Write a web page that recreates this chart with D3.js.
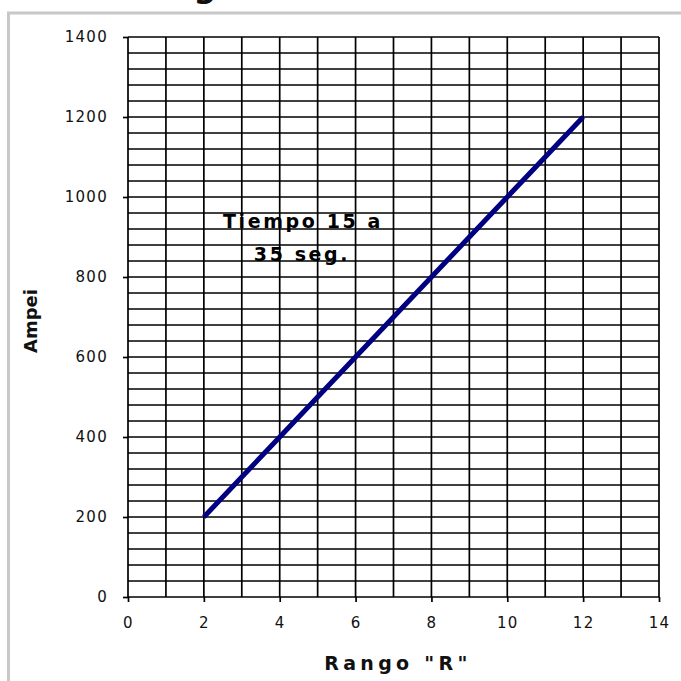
<!DOCTYPE html>
<html>
<head>
<meta charset="utf-8">
<script src="https://cdn.jsdelivr.net/npm/d3@7"></script>
<style>
  html, body { margin: 0; padding: 0; background: #fff; }
  svg { display: block; }
</style>
</head>
<body>
<svg id="chart" width="681" height="681"></svg>
<script>
// ---- data ----
const rango = [2, 3, 4, 5, 6, 7, 8, 9, 10, 11, 12];
const amperes = [200, 300, 400, 500, 600, 700, 800, 900, 1000, 1100, 1200];
const xTicks = [0, 2, 4, 6, 8, 10, 12, 14];
const yTicks = [0, 200, 400, 600, 800, 1000, 1200, 1400];
const xTitle = 'Rango "R"';
const yTitle = "Ampei";
const noteLines = ["Tiempo 15 a", "35 seg."];
const titleText = "g";

// ---- layout ----
const svg = d3.select("#chart");
const x = d3.scaleLinear().domain([0, 14]).range([128, 659]);
const y = d3.scaleLinear().domain([0, 1400]).range([597, 37]);

// outer frame
svg.append("rect")
  .attr("x", 8.5).attr("y", 13).attr("width", 1000).attr("height", 1000)
  .attr("fill", "none").attr("stroke", "#c8c8c8").attr("stroke-width", 3);

// clipped title fragment (only its descender is visible in the reference)
svg.append("text")
  .attr("x", 205).attr("y", -3)
  .attr("text-anchor", "middle")
  .attr("font-family", "DejaVu Sans, sans-serif")
  .attr("font-weight", "bold")
  .attr("font-size", 32)
  .attr("fill", "#111")
  .text(titleText);

// grid
const grid = svg.append("g").attr("stroke", "#000").attr("stroke-width", 1.7);
grid.selectAll("line.h").data(d3.range(0, 1401, 40)).join("line")
  .attr("class", "h")
  .attr("x1", x(0)).attr("x2", x(14))
  .attr("y1", d => y(d)).attr("y2", d => y(d));
grid.selectAll("line.v").data(d3.range(0, 15, 1)).join("line")
  .attr("class", "v")
  .attr("x1", d => x(d)).attr("x2", d => x(d))
  .attr("y1", y(0)).attr("y2", y(1400));

// axes
const yAxis = svg.append("g")
  .attr("transform", `translate(${x(0)},0)`)
  .call(d3.axisLeft(y).tickValues(yTicks).tickSize(5).tickPadding(15).tickFormat(d3.format("d")));
const xAxis = svg.append("g")
  .attr("transform", `translate(0,${y(0)})`)
  .call(d3.axisBottom(x).tickValues(xTicks).tickSize(5).tickPadding(15).tickFormat(d3.format("d")));
[yAxis, xAxis].forEach(a => {
  a.select(".domain").remove();
  a.selectAll(".tick line").attr("stroke", "#000").attr("stroke-width", 1.7);
  a.selectAll(".tick text")
    .attr("font-family", "DejaVu Sans, sans-serif")
    .attr("font-size", 15)
    .attr("letter-spacing", 1.3)
    .attr("fill", "#111");
});

// data line
const line = d3.line().x((d, i) => x(rango[i])).y(d => y(d));
svg.append("path")
  .datum(amperes)
  .attr("d", line)
  .attr("fill", "none")
  .attr("stroke", "#000080")
  .attr("stroke-width", 5)
  .attr("stroke-linejoin", "round");

// annotation
const note = svg.append("text")
  .attr("font-family", "DejaVu Sans, sans-serif")
  .attr("font-weight", "bold")
  .attr("font-size", 19)
  .attr("letter-spacing", 2.6)
  .attr("text-anchor", "middle")
  .attr("fill", "#000");
note.append("tspan").attr("x", 303).attr("y", 228).text(noteLines[0]);
note.append("tspan").attr("x", 302).attr("y", 261).text(noteLines[1]);

// axis titles
svg.append("text")
  .attr("x", 398).attr("y", 670)
  .attr("text-anchor", "middle")
  .attr("font-family", "DejaVu Sans, sans-serif")
  .attr("font-weight", "bold")
  .attr("font-size", 19)
  .attr("letter-spacing", 4.3)
  .attr("fill", "#111")
  .text(xTitle);
svg.append("text")
  .attr("transform", "translate(37,321) rotate(-90)")
  .attr("text-anchor", "middle")
  .attr("font-family", "DejaVu Sans, sans-serif")
  .attr("font-weight", "bold")
  .attr("font-size", 18)
  .attr("fill", "#111")
  .text(yTitle);
</script>
</body>
</html>
